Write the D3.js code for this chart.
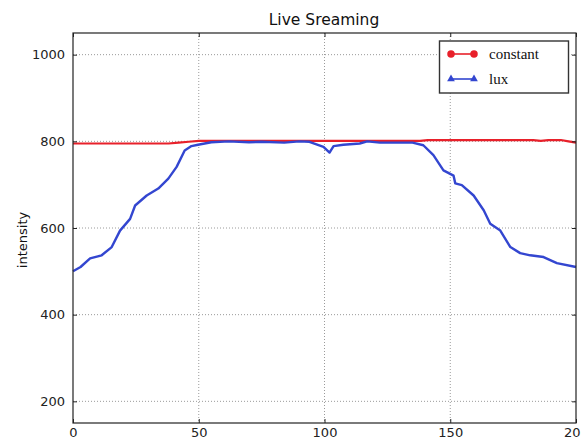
<!DOCTYPE html>
<html lang="en">
<head>
<meta charset="UTF-8">
<title>Live Sreaming</title>
<script src="https://d3js.org/d3.v7.min.js"></script>
<style>
  body { margin: 0; background: #fff; font-family: "DejaVu Sans", sans-serif; }
  .grid line { stroke: #9a9a9a; stroke-dasharray: 1,2; }
</style>
</head>
<body>
<div id="chart"></div>
<script>
// data
const xTicks = [0, 50, 100, 150, 200];
const yTicks = [200, 400, 600, 800, 1000];

const constX = [0, 20, 38, 42, 46, 50, 70, 100, 120, 138, 141, 160, 183, 186, 189, 194, 197, 200];
const constY = [795, 795, 795, 797, 799, 801, 801, 801, 801, 801, 803, 803, 803, 801, 803, 803, 800, 797];

const luxX = [0, 3, 6.8, 11.4, 15.4, 18.7, 22.7, 24.7, 29.3, 33.9, 37.9, 41.2, 44.4, 47.1, 49.7, 55, 62, 70, 75, 84, 90,
              94, 99.6, 102, 103.6, 107.5, 114, 117, 122, 130, 135, 139.3, 143.3, 147.3, 151.3, 152, 154.6, 159.3,
              163.3, 165.9, 169.9, 173.9, 177.8, 181.8, 187.1, 192.4, 200];
const luxY = [500, 510, 530, 537, 556, 594, 621, 652, 675, 691, 714, 741, 779, 789, 792, 798, 800, 798, 799, 797, 800,
              799, 787, 774, 789, 792, 795, 800, 797, 797, 797, 791, 768, 733, 721, 703, 699, 675,
              641, 610, 594, 556, 542, 537, 533, 519, 510];

const W = 581, H = 439;
const m = { left: 73, right: 5, top: 33, bottom: 16 };

const svg = d3.select("#chart").append("svg")
  .attr("width", W).attr("height", H);

const x = d3.scaleLinear().domain([0, 200]).range([m.left, W - m.right]);
const y = d3.scaleLinear().domain([150, 1050]).range([H - m.bottom, m.top]);

// grid
const grid = svg.append("g").attr("class", "grid");
grid.selectAll(".gx").data(xTicks.slice(1, -1)).enter().append("line")
  .attr("x1", d => x(d)).attr("x2", d => x(d))
  .attr("y1", m.top).attr("y2", H - m.bottom);
grid.selectAll(".gy").data(yTicks).enter().append("line")
  .attr("x1", m.left).attr("x2", W - m.right)
  .attr("y1", d => y(d)).attr("y2", d => y(d));

// lines
const lineC = d3.line().x((d, i) => x(constX[i])).y(d => y(d));
const lineL = d3.line().x((d, i) => x(luxX[i])).y(d => y(d));

svg.append("path").datum(constY).attr("d", lineC)
  .attr("fill", "none").attr("stroke", "#e8202a").attr("stroke-width", 2.2);
svg.append("path").datum(luxY).attr("d", lineL)
  .attr("fill", "none").attr("stroke", "#3346d0").attr("stroke-width", 2.4)
  .attr("stroke-linejoin", "round");

// axes, ticks pointing inward, on all four sides
const fmt = d3.format("d");
const axB = svg.append("g").attr("transform", `translate(0,${H - m.bottom})`)
  .call(d3.axisBottom(x).tickValues(xTicks).tickSize(-4).tickPadding(5).tickFormat(fmt));
const axT = svg.append("g").attr("transform", `translate(0,${m.top})`)
  .call(d3.axisTop(x).tickValues(xTicks).tickSize(-4).tickFormat(""));
const axL = svg.append("g").attr("transform", `translate(${m.left},0)`)
  .call(d3.axisLeft(y).tickValues(yTicks).tickSize(-4).tickPadding(8).tickFormat(fmt));
const axR = svg.append("g").attr("transform", `translate(${W - m.right},0)`)
  .call(d3.axisRight(y).tickValues(yTicks).tickSize(-4).tickFormat(""));

[axB, axT, axL, axR].forEach(a => {
  a.select(".domain").remove();
  a.selectAll("line").attr("stroke", "#222");
  a.selectAll("text").attr("font-family", "DejaVu Sans, sans-serif")
    .attr("font-size", 13).attr("fill", "#222");
});

svg.append("rect")
  .attr("x", m.left).attr("y", m.top)
  .attr("width", W - m.right - m.left).attr("height", H - m.bottom - m.top)
  .attr("fill", "none").attr("stroke", "#222").attr("stroke-width", 1.2);

// title and axis label
svg.append("text").attr("x", 324).attr("y", 25)
  .attr("text-anchor", "middle").attr("font-size", 15.5).attr("fill", "#111")
  .text("Live Sreaming");

svg.append("text")
  .attr("transform", `translate(27,${(m.top + H - m.bottom) / 2 + 12}) rotate(-90)`)
  .attr("text-anchor", "middle").attr("font-size", 13).attr("fill", "#111")
  .text("intensity");

// legend
const leg = svg.append("g");
leg.append("rect").attr("x", 439.5).attr("y", 41).attr("width", 129).attr("height", 52)
  .attr("fill", "#fff").attr("stroke", "#333").attr("stroke-width", 1.4);

const legItems = [
  { name: "constant", color: "#e8202a", shape: d3.symbolCircle },
  { name: "lux", color: "#3346d0", shape: d3.symbolTriangle }
];
legItems.forEach((it, i) => {
  const cy = 54 + i * 25;
  leg.append("line").attr("x1", 451).attr("x2", 474).attr("y1", cy).attr("y2", cy)
    .attr("stroke", it.color).attr("stroke-width", 1.6);
  [451, 474].forEach(px => {
    leg.append("path").attr("d", d3.symbol().type(it.shape).size(i === 0 ? 44 : 26)())
      .attr("transform", `translate(${px},${cy})`).attr("fill", it.color);
  });
  leg.append("text").attr("x", 489).attr("y", cy + 4.5)
    .attr("font-family", "Liberation Serif, serif").attr("font-size", 15).attr("fill", "#111")
    .text(it.name);
});
</script>
</body>
</html>
